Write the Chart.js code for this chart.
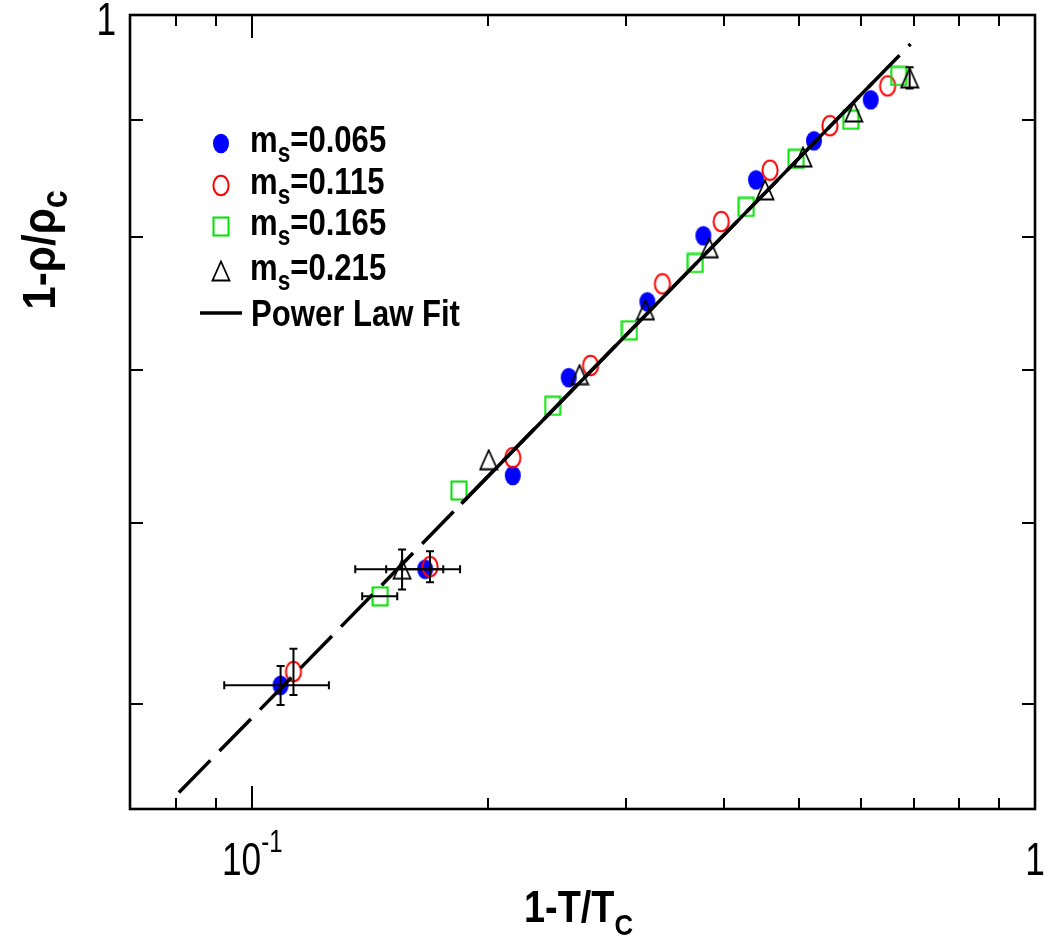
<!DOCTYPE html>
<html>
<head>
<meta charset="utf-8">
<script src="https://cdn.jsdelivr.net/npm/chart.js@4.4.1/dist/chart.umd.min.js"></script>
<style>
  html, body { margin:0; padding:0; background:#fff; }
  #wrap { width:1046px; height:945px; position:relative; }
</style>
</head>
<body>
<div id="wrap"><canvas id="plot" width="1046" height="945"></canvas></div>
<script>
/* ---------- data ---------- */
const seriesNames = ["0.065", "0.115", "0.165", "0.215"];

const x065 = [0.1087, 0.1663, 0.2152, 0.2537, 0.3197, 0.3770, 0.4402, 0.5220, 0.6168];
const y065 = [0.5096, 0.5727, 0.6293, 0.6944, 0.7494, 0.8009, 0.8472, 0.8811, 0.9182];
const x115 = [0.1129, 0.1687, 0.2152, 0.2705, 0.3342, 0.3973, 0.4587, 0.5470, 0.6482];
const y115 = [0.5167, 0.5742, 0.6407, 0.7029, 0.7631, 0.8124, 0.8555, 0.8946, 0.9312];
const x165 = [0.1457, 0.1837, 0.2420, 0.3033, 0.3681, 0.4276, 0.4951, 0.5816, 0.6697];
const y165 = [0.5573, 0.6199, 0.6750, 0.7283, 0.7793, 0.8245, 0.8653, 0.9000, 0.9405];
const x215 = [0.1554, 0.2005, 0.2619, 0.3179, 0.3836, 0.4520, 0.5054, 0.5868, 0.6916];
const y215 = [0.5727, 0.6394, 0.6965, 0.7434, 0.7913, 0.8387, 0.8669, 0.9071, 0.9387];

// error bars (0 = none drawn)
const xErr065 = [0.0166, 0.018, 0, 0, 0, 0, 0, 0, 0];
const yErr065 = [0.010, 0, 0, 0, 0, 0, 0, 0, 0];
const xErr115 = [0, 0, 0, 0, 0, 0, 0, 0, 0];
const yErr115 = [0.012, 0.009, 0, 0, 0, 0, 0, 0, 0];
const xErr165 = [0.0075, 0, 0, 0, 0, 0, 0, 0, 0];
const yErr165 = [0, 0, 0, 0, 0, 0, 0, 0, 0];
const xErr215 = [0.020, 0, 0, 0, 0, 0, 0, 0, 0];
const yErr215 = [0.0115, 0, 0, 0, 0, 0, 0, 0, 0.010];

// power law fit: dashed over the full span, solid over the fit window
const fitDashX  = [0.0806, 0.6935];
const fitDashY  = [0.4575, 0.9713];
const fitSolidX = [0.185, 0.62];
const fitSolidY = [0.6117, 0.934];

// axes
const xMin = 0.0698, xMax = 1;
const yMin = 0.450,  yMax = 1;
const xMajorTicks = [0.1, 1];
const xMinorTicks = [0.08, 0.09, 0.2, 0.3, 0.4, 0.5, 0.6, 0.7, 0.8, 0.9];
const yTicks = [0.5, 0.6, 0.7, 0.8, 0.9];

/* ---------- marker images ---------- */
function markerCanvas(w, h, draw){
  const c = document.createElement("canvas");
  c.width = w; c.height = h;
  draw(c.getContext("2d"), w, h);
  return c;
}
const mkBlue = markerCanvas(18, 21, (g,w,h)=>{
  g.beginPath(); g.ellipse(w/2, h/2, 8, 9.8, 0, 0, Math.PI*2);
  g.fillStyle = "#0000ff"; g.fill();
});
const mkRed = markerCanvas(20, 23, (g,w,h)=>{
  g.beginPath(); g.ellipse(w/2, h/2, 7.6, 9.8, 0, 0, Math.PI*2);
  g.strokeStyle = "#ff0000"; g.lineWidth = 2; g.stroke();
});
const mkGreen = markerCanvas(18, 21, (g,w,h)=>{
  g.strokeStyle = "#00e000"; g.lineWidth = 2;
  g.strokeRect(1.5, 1.5, w-3, h-3);
});
const mkTri = markerCanvas(20, 22, (g,w,h)=>{
  g.beginPath(); g.moveTo(w/2, 1.5); g.lineTo(w-1.5, h-1.5); g.lineTo(1.5, h-1.5); g.closePath();
  g.strokeStyle = "#000"; g.lineWidth = 1.8; g.stroke();
});

const pts = (xs, ys) => xs.map((x,i)=>({x, y: ys[i]}));

/* ---------- text helpers ---------- */
const FN = '"Liberation Sans", Arial, sans-serif';
function richWidth(g, parts){
  let w = 0;
  parts.forEach(p=>{ g.font = p.f; w += g.measureText(p.t).width * (p.sx || 1); });
  return w;
}
function drawRich(g, parts, x, y, align){
  const w = richWidth(g, parts);
  let cx = align === "center" ? x - w/2 : align === "right" ? x - w : x;
  g.textAlign = "left"; g.textBaseline = "alphabetic"; g.fillStyle = "#000";
  parts.forEach(p=>{
    g.font = p.f;
    const sx = p.sx || 1;
    const adv = g.measureText(p.t).width * sx;
    g.save(); g.translate(cx, y + (p.dy || 0)); g.scale(sx, 1); g.fillText(p.t, 0, 0); g.restore();
    cx += adv;
  });
}

/* ---------- frame, ticks, error bars, labels, legend ---------- */
const decor = {
  id: "decor",
  afterDatasetsDraw(c){
    const g = c.ctx, xs = c.scales.x, ys = c.scales.y;
    const sets = [[x065,y065,xErr065,yErr065],[x115,y115,xErr115,yErr115],
                  [x165,y165,xErr165,yErr165],[x215,y215,xErr215,yErr215]];
    g.save();
    g.strokeStyle = "#000"; g.lineWidth = 2;
    sets.forEach(([X,Y,XE,YE])=>{
      X.forEach((xv,i)=>{
        const px = xs.getPixelForValue(xv), py = ys.getPixelForValue(Y[i]);
        if (XE[i] > 0){
          const a = xs.getPixelForValue(xv - XE[i]), b = xs.getPixelForValue(xv + XE[i]);
          g.beginPath();
          g.moveTo(a, py); g.lineTo(b, py);
          g.moveTo(a, py-4); g.lineTo(a, py+4);
          g.moveTo(b, py-4); g.lineTo(b, py+4);
          g.stroke();
        }
        if (YE[i] > 0){
          const a = ys.getPixelForValue(Y[i] - YE[i]), b = ys.getPixelForValue(Y[i] + YE[i]);
          g.beginPath();
          g.moveTo(px, a); g.lineTo(px, b);
          g.moveTo(px-4, a); g.lineTo(px+4, a);
          g.moveTo(px-4, b); g.lineTo(px+4, b);
          g.stroke();
        }
      });
    });
    g.restore();
  },
  afterDraw(c){
    const g = c.ctx, a = c.chartArea, xs = c.scales.x, ys = c.scales.y;
    g.save();
    g.strokeStyle = "#000";

    // ticks
    g.lineWidth = 2;
    g.beginPath();
    xMinorTicks.forEach(v=>{
      const p = Math.round(xs.getPixelForValue(v));
      g.moveTo(p, a.bottom); g.lineTo(p, a.bottom - 11);
      g.moveTo(p, a.top); g.lineTo(p, a.top + 11);
    });
    xMajorTicks.forEach(v=>{
      const p = Math.round(xs.getPixelForValue(v));
      g.moveTo(p, a.bottom); g.lineTo(p, a.bottom - 23);
      g.moveTo(p, a.top); g.lineTo(p, a.top + 23);
    });
    yTicks.forEach(v=>{
      const p = Math.round(ys.getPixelForValue(v));
      g.moveTo(a.left, p); g.lineTo(a.left + 13, p);
      g.moveTo(a.right, p); g.lineTo(a.right - 13, p);
    });
    g.stroke();

    // frame
    g.lineWidth = 2.6;
    g.strokeRect(a.left, a.top, a.right - a.left, a.bottom - a.top);

    // tick labels
    const tf = `47px ${FN}`, sf = `32px ${FN}`;
    drawRich(g, [{t:"10", f:tf, sx:0.75}, {t:"-1", f:sf, sx:0.75, dy:-23}],
             xs.getPixelForValue(0.1), 875, "center");
    drawRich(g, [{t:"1", f:tf, sx:0.75}], xs.getPixelForValue(1), 875, "center");
    drawRich(g, [{t:"1", f:tf, sx:0.75}], 116, ys.getPixelForValue(1) + 20, "right");

    // axis titles
    const bf = `bold 44px ${FN}`, bs = `bold 30px ${FN}`;
    drawRich(g, [{t:"1-T/T", f:bf, sx:0.86}, {t:"C", f:bs, sx:0.86, dy:13}], 524, 922, "left");
    g.save();
    g.translate(55, 250); g.rotate(-Math.PI/2);
    drawRich(g, [{t:"1-\u03c1/\u03c1", f:`bold 47px ${FN}`, sx:0.9}, {t:"c", f:`bold 36px ${FN}`, sx:0.9, dy:12}], 0, 0, "center");
    g.restore();

    // legend
    const lf = `bold 37px ${FN}`, ls = `bold 27px ${FN}`;
    const marks = [mkBlue, mkRed, mkGreen, mkTri];
    const rowY = [143, 185, 226, 271];
    marks.forEach((m,i)=>{
      g.drawImage(m, Math.round(221 - m.width/2), Math.round(rowY[i] - m.height/2));
      drawRich(g, [{t:"m", f:lf, sx:0.84}, {t:"s", f:ls, sx:0.84, dy:10},
                   {t:"=" + seriesNames[i], f:lf, sx:0.84}], 250, rowY[i] + 9, "left");
    });
    g.lineWidth = 3.5;
    g.beginPath(); g.moveTo(200, 313); g.lineTo(242, 313); g.stroke();
    drawRich(g, [{t:"Power Law Fit", f:lf, sx:0.84}], 251, 326, "left");

    g.restore();
  }
};

/* ---------- chart ---------- */
const ctx = document.getElementById("plot").getContext("2d");
new Chart(ctx, {
  type: "scatter",
  data: {
    datasets: [
      { label:"fit", data: pts(fitSolidX, fitSolidY), showLine:true, borderColor:"#000",
        borderWidth:3.5, pointRadius:0, fill:false },
      { label:"fit (extrapolated)", data: pts(fitDashX, fitDashY), showLine:true, borderColor:"#000",
        borderWidth:3.5, borderDash:[45,13], pointRadius:0, fill:false },
      { label:"ms=" + seriesNames[3], data: pts(x215, y215), pointStyle: mkTri, pointRadius:10 },
      { label:"ms=" + seriesNames[2], data: pts(x165, y165), pointStyle: mkGreen, pointRadius:10 },
      { label:"ms=" + seriesNames[1], data: pts(x115, y115), pointStyle: mkRed, pointRadius:10 },
      { label:"ms=" + seriesNames[0], data: pts(x065, y065), pointStyle: mkBlue, pointRadius:10 }
    ]
  },
  options: {
    responsive: false,
    devicePixelRatio: 1,
    animation: false,
    layout: { padding: { left:130, top:15, right:9, bottom:136 } },
    scales: {
      x: { type:"logarithmic", min:xMin, max:xMax, display:false },
      y: { type:"logarithmic", min:yMin, max:yMax, display:false }
    },
    plugins: { legend:{ display:false }, tooltip:{ enabled:false } }
  },
  plugins: [decor]
});
</script>
</body>
</html>
